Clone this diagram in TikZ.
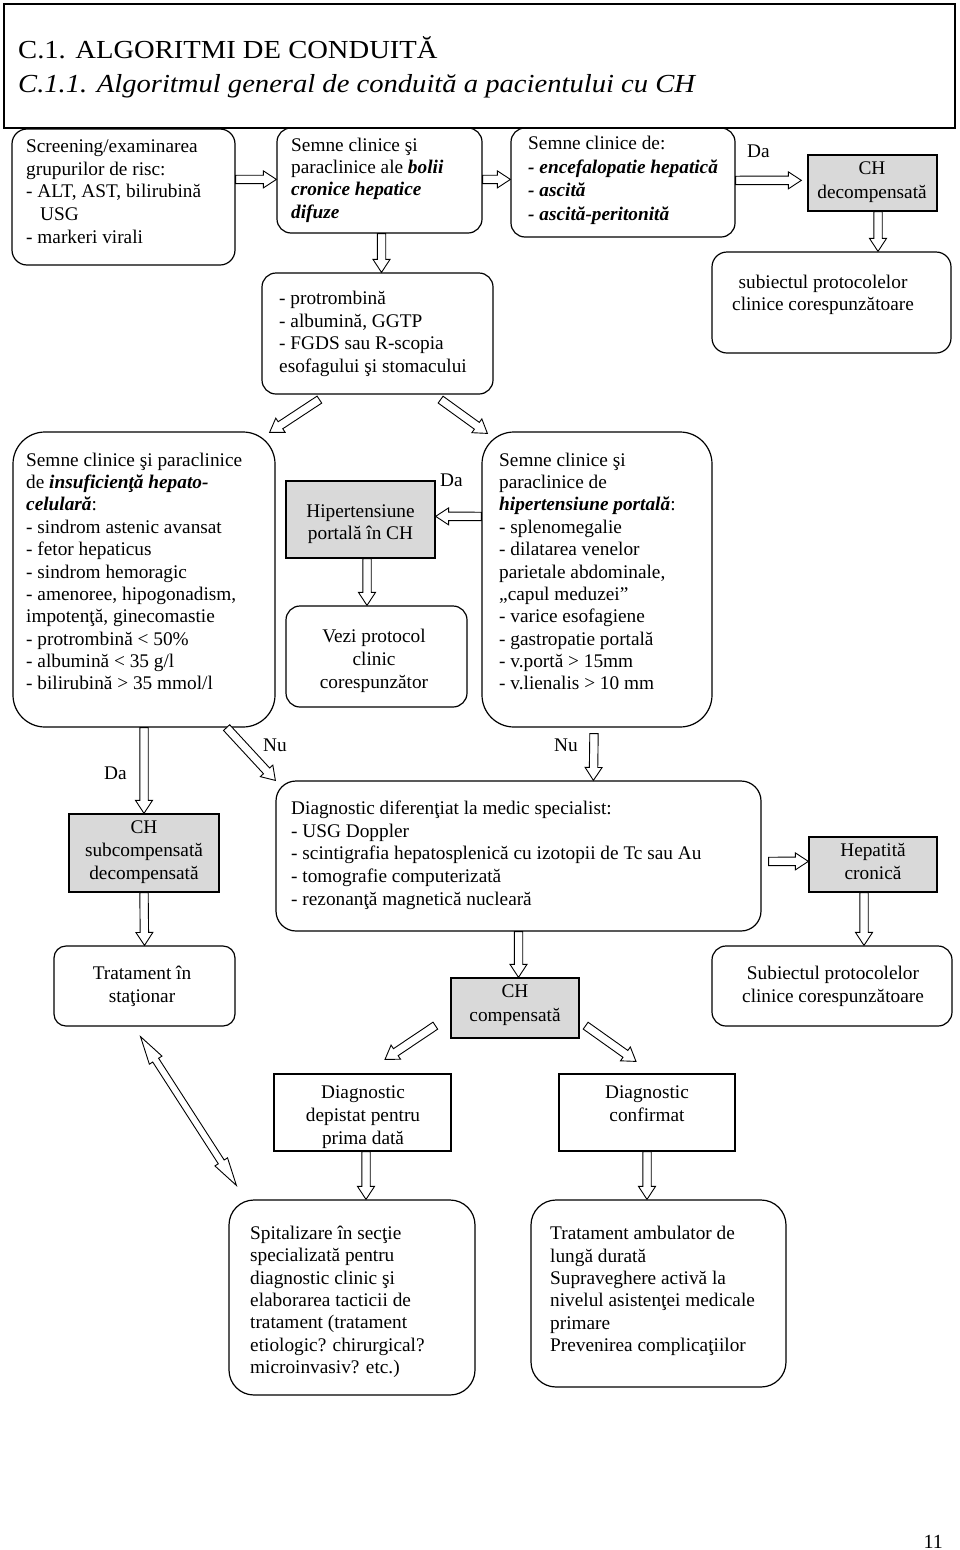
\documentclass[tikz,border=0pt]{standalone}
\usepackage{graphicx}
\usepackage{fontspec}
\setmainfont{Liberation Serif}
\usetikzlibrary{calc,fit}
\definecolor{boxgray}{RGB}{217,217,217}
\newcommand\bi[1]{\textbf{\textit{#1}}}
\newcommand\mainsz{\fontsize{19.3}{22.6}\selectfont}
% single block arrow: from #1 to tip #2
\newcommand\blk[2]{%
  \coordinate (bkA) at #1;
  \coordinate (bkB) at #2;
  \coordinate (bkH) at ($(bkB)!13pt!(bkA)$);
  \draw[barrow] ($(bkA)!4.2pt!90:(bkB)$) -- ($(bkH)!4.2pt!90:(bkB)$) -- ($(bkH)!8.5pt!90:(bkB)$) -- (bkB)
    -- ($(bkH)!8.5pt!-90:(bkB)$) -- ($(bkH)!4.2pt!-90:(bkB)$) -- ($(bkA)!4.2pt!-90:(bkB)$) -- cycle;}
% double-headed block arrow
\newcommand\blkk[2]{%
  \coordinate (bkA) at #1;
  \coordinate (bkB) at #2;
  \coordinate (bkHA) at ($(bkA)!28pt!(bkB)$);
  \coordinate (bkHB) at ($(bkB)!28pt!(bkA)$);
  \draw[barrow] (bkA) -- ($(bkHA)!7.5pt!90:(bkB)$) -- ($(bkHA)!3.5pt!90:(bkB)$) -- ($(bkHB)!3.5pt!-90:(bkA)$)
    -- ($(bkHB)!7.5pt!-90:(bkA)$) -- (bkB) -- ($(bkHB)!7.5pt!90:(bkA)$) -- ($(bkHB)!3.5pt!90:(bkA)$)
    -- ($(bkHA)!3.5pt!-90:(bkB)$) -- ($(bkHA)!7.5pt!-90:(bkB)$) -- cycle;}
\tikzset{
  rbox/.style={draw, line width=1.2pt, inner sep=0pt, rounded corners=#1},
  rbox/.default=14pt,
  gbox/.style={draw, line width=1.3pt, fill=boxgray, inner sep=0pt},
  pbox/.style={draw, line width=1.2pt, inner sep=0pt},
  txt/.style={inner sep=0pt, anchor=north west, align=left, font=\mainsz, yshift=12.82pt},
  ctxt/.style={inner sep=0pt, anchor=north, align=center, font=\mainsz, yshift=12.82pt},
  lbl/.style={inner sep=0pt, anchor=base west, font=\mainsz},
  ttl/.style={inner sep=0pt, anchor=base west, font=\fontsize{26}{30}\selectfont},
  barrow/.style={draw, line width=0.9pt, fill=white, line join=miter},
}
\begin{document}
\begin{tikzpicture}[x=1pt,y=-1pt]
\useasboundingbox (0,0) rectangle (960,1550);
% title frame
\node[pbox, line width=1.5pt, fit={(4,4) (955,128)}] (frame) {};
\node[ttl] (tt1) at (18,58.5) {\scalebox{1.1}[1]{C.1. ALGORITMI DE CONDUITĂ}};
\node[ttl] (tt2) at (18,92) {\scalebox{1.1}[1]{\itshape C.1.1. Algoritmul general de conduită a pacientului cu CH}};

% boxes
\node[rbox=15pt, fit={(12,129) (235,265)}] (b1) {};
\node[rbox, fit={(277,128) (482,233)}] (b2) {};
\node[rbox, fit={(511,128) (735,237)}] (b3) {};
\node[gbox, fit={(808,155) (937,211)}] (b4) {};
\node[rbox=15pt, fit={(712,252) (951,353)}] (b5) {};
\node[rbox, fit={(262,273) (493,394)}] (b6) {};
\node[rbox=32pt, fit={(13,432) (275,727)}] (b7) {};
\node[gbox, fit={(286,481) (435,558)}] (b8) {};
\node[rbox=32pt, fit={(482,432) (712,727)}] (b9) {};
\node[rbox, fit={(286,606) (467,707)}] (b10) {};
\node[gbox, fit={(69,814) (219,892)}] (b11) {};
\node[rbox=20pt, fit={(276,781) (761,931)}] (b12) {};
\node[gbox, fit={(809,837) (937,892)}] (b13) {};
\node[rbox=12pt, fit={(54,946) (235,1026)}] (b14) {};
\node[gbox, fit={(451,978) (579,1038)}] (b15) {};
\node[rbox, fit={(712,946) (952,1026)}] (b16) {};
\node[pbox, fit={(274,1074) (451,1151)}] (b17) {};
\node[pbox, fit={(559,1074) (735,1151)}] (b18) {};
\node[rbox=25pt, fit={(229,1200) (475,1395)}] (b19) {};
\node[rbox=25pt, fit={(531,1200) (786,1387)}] (b20) {};

% texts
\node[txt] (x1) at (26,152.5) {Screening/examinarea\\grupurilor de risc:\\- ALT, AST, bilirubină\\\hspace*{14pt}USG\\- markeri virali};
\node[txt, font=\fontsize{19.3}{22.3}\selectfont] (x2) at (291,150.5) {Semne clinice şi\\paraclinice ale \bi{bolii}\\\bi{cronice hepatice}\\\bi{difuze}};
\node[txt, font=\fontsize{19.3}{23.8}\selectfont] (x3) at (528,148.5) {Semne clinice de:\\\bi{- encefalopatie hepatică}\\\bi{- ascită}\\\bi{- ascită-peritonită}};
\node[lbl] (da1) at (747,157) {Da};
\node[ctxt, font=\fontsize{19.3}{24}\selectfont] (x4) at (872,174) {CH\\decompensată};
\node[ctxt] (x5) at (823,287.5) {subiectul protocolelor\\clinice corespunzătoare};
\node[txt, font=\fontsize{19.3}{22.8}\selectfont] (x6) at (279,303.5) {- protrombină\\- albumină, GGTP\\- FGDS sau R-scopia\\esofagului şi stomacului};
\node[txt, font=\fontsize{19.3}{22.35}\selectfont] (x7) at (26,465.5) {Semne clinice şi paraclinice\\de \bi{insuficienţă hepato-}\\\bi{celulară}:\\- sindrom astenic avansat\\- fetor hepaticus\\- sindrom hemoragic\\- amenoree, hipogonadism,\\impotenţă, ginecomastie\\- protrombină < 50\%\\- albumină < 35 g/l\\- bilirubină > 35 mmol/l};
\node[ctxt, font=\fontsize{19.3}{22}\selectfont] (x8) at (360.5,517) {Hipertensiune\\portală în CH};
\node[lbl] (da2) at (440,486) {Da};
\node[txt, font=\fontsize{19.3}{22.35}\selectfont] (x9) at (499,465.5) {Semne clinice şi\\paraclinice de\\\bi{hipertensiune portală}:\\- splenomegalie\\- dilatarea venelor\\parietale abdominale,\\„capul meduzei”\\- varice esofagiene\\- gastropatie portală\\- v.portă > 15mm\\- v.lienalis > 10 mm};
\node[ctxt, font=\fontsize{19.3}{23}\selectfont] (x10) at (374,642) {Vezi protocol\\clinic\\corespunzător};
\node[lbl] (da3) at (104,779) {Da};
\node[lbl] (nu1) at (263,751) {Nu};
\node[lbl] (nu2) at (554,751) {Nu};
\node[ctxt, font=\fontsize{19.3}{23}\selectfont] (x11) at (144,833) {CH\\subcompensată\\decompensată};
\node[txt, font=\fontsize{19.3}{22.75}\selectfont] (x12) at (291,813.5) {Diagnostic diferenţiat la medic specialist:\\- USG Doppler\\- scintigrafia hepatosplenică cu izotopii de Tc sau Au\\- tomografie computerizată\\- rezonanţă magnetică nucleară};
\node[ctxt] (x13) at (873,856) {Hepatită\\cronică};
\node[ctxt, font=\fontsize{19.3}{23}\selectfont] (x14) at (142,978.5) {Tratament în\\staţionar};
\node[ctxt, font=\fontsize{19.3}{24}\selectfont] (x15) at (515,997) {CH\\compensată};
\node[ctxt, font=\fontsize{19.3}{23}\selectfont] (x16) at (833,978.5) {Subiectul protocolelor\\clinice corespunzătoare};
\node[ctxt, font=\fontsize{19.3}{23}\selectfont] (x17) at (363,1098.5) {Diagnostic\\depistat pentru\\prima dată};
\node[ctxt, font=\fontsize{19.3}{23}\selectfont] (x18) at (647,1098.5) {Diagnostic\\confirmat};
\node[txt, font=\fontsize{19.3}{22.4}\selectfont] (x19) at (250,1238.5) {Spitalizare în secţie\\specializată pentru\\diagnostic clinic şi\\elaborarea tacticii de\\tratament (tratament\\etiologic? chirurgical?\\microinvasiv? etc.)};
\node[txt, font=\fontsize{19.3}{22.4}\selectfont] (x20) at (550,1239) {Tratament ambulator de\\lungă durată\\Supraveghere activă la\\nivelul asistenţei medicale\\primare\\Prevenirea complicaţiilor};
\node[inner sep=0pt, anchor=base east, font=\fontsize{20}{24}\selectfont] (pg) at (943,1548) {11};

% arrows
\blk{($(b1.north east)+(0,51)$)}{($(b2.north west)+(0,52)$)}
\blk{($(b2.north east)+(0,52)$)}{($(b3.north west)+(0,52)$)}
\blk{($(b3.north east)+(0,53)$)}{($(b4.north west)+(-6,26)$)}
\blk{($(b4.south)+(5.5,0)$)}{($(b5.north)+(46.5,0)$)}
\blk{($(b2.south)+(2,0)$)}{($(b6.north)+(4,0)$)}
\blk{($(b6.south west)+(58,5)$)}{($(b7.north east)+(-6,1)$)}
\blk{($(b6.south east)+(-53,5)$)}{($(b9.north west)+(6,2)$)}
\blk{($(b9.north west)+(0,85)$)}{($(b8.north east)+(0,36)$)}
\blk{($(b8.south)+(6.5,0)$)}{($(b10.north)+(-9.5,0)$)}
\blk{(b7.south)}{(b11.north)}
\blk{($(b7.south east)+(-49,0)$)}{(b12.north west)}
\blk{($(b9.south)+(-3,6)$)}{($(b12.north west)+(318,0)$)}
\blk{($(b12.north east)+(7,81)$)}{($(b13.north west)+(0,25)$)}
\blk{(b11.south)}{(b14.north)}
\blk{(b12.south)}{($(b15.north)+(3.5,0)$)}
\blk{($(b13.south)+(-9,0)$)}{($(b16.north)+(32,0)$)}
\blk{($(b15.south west)+(-15,-13)$)}{($(b17.north)+(22.5,-14)$)}
\blk{($(b15.south east)+(6,-13)$)}{($(b18.north)+(-11,-12)$)}
\blk{($(b17.south)+(3.5,0)$)}{($(b19.north)+(14,0)$)}
\blk{(b18.south)}{($(b20.north)+(-11.5,0)$)}
\blkk{($(b14.south)+(-4,10)$)}{($(b19.north west)+(8,-14)$)}
\end{tikzpicture}
\end{document}
